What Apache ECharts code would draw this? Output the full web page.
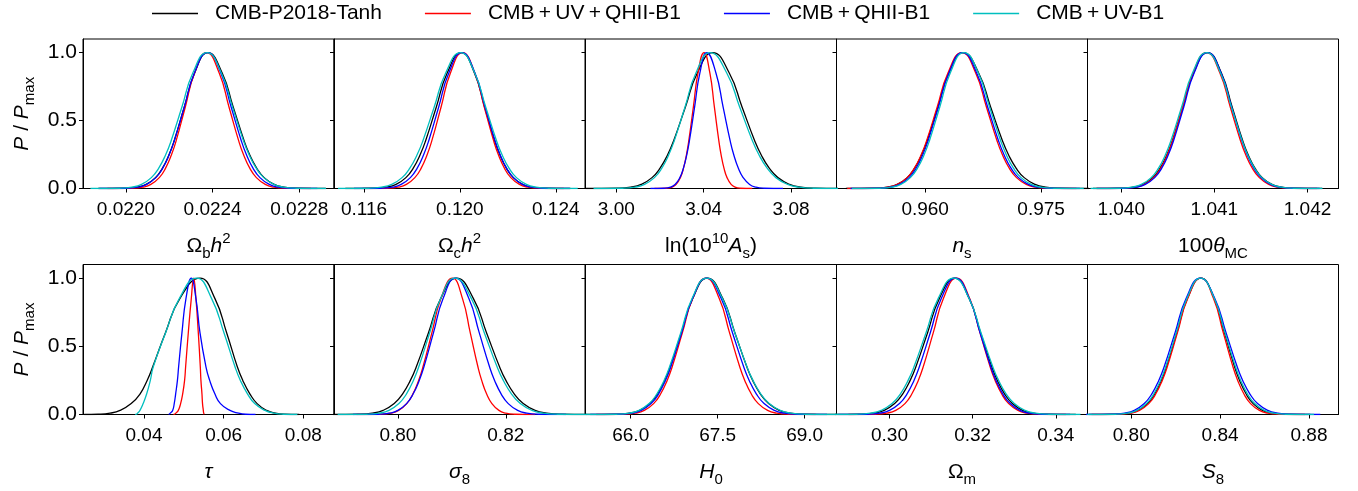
<!DOCTYPE html>
<html><head><meta charset="utf-8">
<script src="https://cdn.jsdelivr.net/npm/echarts@6/dist/echarts.min.js"></script>
<style>html,body{margin:0;padding:0;background:#fff}#c{width:1358px;height:491px}</style>
</head><body><div id="c"></div>
<script>
// ---------------- data ----------------
const SERIES_NAMES = ['CMB-P2018-Tanh', 'CMB+UV+QHII-B1', 'CMB+QHII-B1', 'CMB+UV-B1'];
// normalised posterior height (P/Pmax) of each sampled point
const LEVELS = [0, 0.002, 0.01, 0.03, 0.08, 0.15, 0.25, 0.35, 0.6, 0.85, 1, 0.85, 0.6, 0.35, 0.25, 0.15, 0.08, 0.03, 0.01, 0.002, 0];
// x positions of the sampled points; curve order: black, red, blue, cyan
const OBH2 = [
  [0.0218719, 0.0219985, 0.0220519, 0.0220936, 0.0221366, 0.0221688, 0.0221993, 0.0222224, 0.0222696, 0.0223170, 0.0223783, 0.0224441, 0.0224949, 0.0225456, 0.0225704, 0.0226032, 0.0226377, 0.0226839, 0.0227286, 0.0227859, 0.0229218],
  [0.0219151, 0.0220293, 0.0220775, 0.0221151, 0.0221540, 0.0221830, 0.0222105, 0.0222315, 0.0222740, 0.0223168, 0.0223721, 0.0224304, 0.0224755, 0.0225204, 0.0225424, 0.0225714, 0.0226020, 0.0226430, 0.0226826, 0.0227334, 0.0228538],
  [0.0218765, 0.0220015, 0.0220543, 0.0220954, 0.0221380, 0.0221697, 0.0221999, 0.0222228, 0.0222693, 0.0223161, 0.0223767, 0.0224380, 0.0224854, 0.0225326, 0.0225557, 0.0225862, 0.0226184, 0.0226615, 0.0227031, 0.0227565, 0.0228831],
  [0.0218364, 0.0219707, 0.0220274, 0.0220716, 0.0221173, 0.0221514, 0.0221838, 0.0222083, 0.0222584, 0.0223086, 0.0223737, 0.0224403, 0.0224917, 0.0225429, 0.0225680, 0.0226011, 0.0226360, 0.0226828, 0.0227280, 0.0227860, 0.0229234]
];
const OCH2 = [
  [0.1152223, 0.1164307, 0.1169406, 0.1173382, 0.1177491, 0.1180560, 0.1183472, 0.1185684, 0.1190185, 0.1194707, 0.1200559, 0.1206075, 0.1210337, 0.1214580, 0.1216664, 0.1219409, 0.1222303, 0.1226175, 0.1229922, 0.1234729, 0.1246119],
  [0.1159446, 0.1169863, 0.1174259, 0.1177686, 0.1181228, 0.1183874, 0.1186384, 0.1188291, 0.1192171, 0.1196069, 0.1201114, 0.1206226, 0.1210176, 0.1214108, 0.1216040, 0.1218584, 0.1221265, 0.1224854, 0.1228327, 0.1232782, 0.1243338],
  [0.1155832, 0.1167083, 0.1171831, 0.1175533, 0.1179358, 0.1182216, 0.1184927, 0.1186986, 0.1191177, 0.1195387, 0.1200836, 0.1206285, 0.1210495, 0.1214686, 0.1216745, 0.1219456, 0.1222314, 0.1226139, 0.1229841, 0.1234589, 0.1245840],
  [0.1149165, 0.1161944, 0.1167337, 0.1171541, 0.1175886, 0.1179132, 0.1182211, 0.1184550, 0.1189310, 0.1194092, 0.1200281, 0.1206201, 0.1210774, 0.1215328, 0.1217564, 0.1220510, 0.1223615, 0.1227771, 0.1231792, 0.1236950, 0.1249173]
];
const LNAS = [
  [2.985899, 3.000459, 3.006603, 3.011394, 3.016344, 3.020042, 3.023551, 3.026216, 3.031639, 3.037088, 3.044139, 3.051710, 3.057560, 3.063383, 3.066244, 3.070012, 3.073982, 3.079298, 3.084441, 3.091038, 3.106671],
  [3.017471, 3.023142, 3.025535, 3.027401, 3.029329, 3.030769, 3.032136, 3.033174, 3.035286, 3.037409, 3.040155, 3.042827, 3.044891, 3.046946, 3.047956, 3.049286, 3.050687, 3.052563, 3.054378, 3.056706, 3.062223],
  [3.015632, 3.022069, 3.024785, 3.026903, 3.029092, 3.030727, 3.032278, 3.033456, 3.035854, 3.038263, 3.041380, 3.045611, 3.048880, 3.052134, 3.053733, 3.055838, 3.058057, 3.061027, 3.063901, 3.067588, 3.076324],
  [2.989577, 3.002911, 3.008538, 3.012925, 3.017458, 3.020845, 3.024059, 3.026499, 3.031466, 3.036455, 3.042913, 3.050558, 3.056465, 3.062346, 3.065234, 3.069039, 3.073048, 3.078416, 3.083609, 3.090271, 3.106057]
];
const NS = [
  [0.9497414, 0.9535345, 0.9551352, 0.9563831, 0.9576728, 0.9586362, 0.9595504, 0.9602445, 0.9616574, 0.9630768, 0.9649138, 0.9669178, 0.9684662, 0.9700076, 0.9707648, 0.9717620, 0.9728131, 0.9742199, 0.9755813, 0.9773275, 0.9814654],
  [0.9499138, 0.9536207, 0.9551850, 0.9564046, 0.9576649, 0.9586065, 0.9594998, 0.9601782, 0.9615590, 0.9629461, 0.9647414, 0.9665367, 0.9679238, 0.9693046, 0.9699830, 0.9708763, 0.9718179, 0.9730782, 0.9742978, 0.9758621, 0.9795690],
  [0.9503448, 0.9539655, 0.9554934, 0.9566846, 0.9579157, 0.9588353, 0.9597079, 0.9603705, 0.9617192, 0.9630741, 0.9648276, 0.9666646, 0.9680840, 0.9694969, 0.9701910, 0.9711052, 0.9720686, 0.9733583, 0.9746062, 0.9762069, 0.9800000],
  [0.9505172, 0.9541379, 0.9556658, 0.9568570, 0.9580881, 0.9590077, 0.9598803, 0.9605429, 0.9618916, 0.9632465, 0.9650000, 0.9668788, 0.9683304, 0.9697754, 0.9704853, 0.9714202, 0.9724056, 0.9737245, 0.9750008, 0.9766379, 0.9805172]
];
const THETA = [
  [1.0396959, 1.0400036, 1.0401335, 1.0402347, 1.0403393, 1.0404175, 1.0404916, 1.0405479, 1.0406626, 1.0407777, 1.0409267, 1.0410757, 1.0411909, 1.0413055, 1.0413618, 1.0414359, 1.0415141, 1.0416187, 1.0417199, 1.0418498, 1.0421575],
  [1.0397281, 1.0400250, 1.0401503, 1.0402480, 1.0403490, 1.0404244, 1.0404960, 1.0405503, 1.0406610, 1.0407721, 1.0409159, 1.0410597, 1.0411708, 1.0412815, 1.0413358, 1.0414074, 1.0414828, 1.0415838, 1.0416815, 1.0418068, 1.0421037],
  [1.0397389, 1.0400358, 1.0401611, 1.0402588, 1.0403598, 1.0404352, 1.0405068, 1.0405611, 1.0406718, 1.0407829, 1.0409267, 1.0410723, 1.0411847, 1.0412967, 1.0413517, 1.0414241, 1.0415004, 1.0416026, 1.0417015, 1.0418283, 1.0421289],
  [1.0396708, 1.0399821, 1.0401135, 1.0402159, 1.0403217, 1.0404008, 1.0404758, 1.0405327, 1.0406487, 1.0407652, 1.0409159, 1.0410667, 1.0411831, 1.0412991, 1.0413560, 1.0414311, 1.0415101, 1.0416160, 1.0417184, 1.0418497, 1.0421610]
];
const TAU = [
  [0.0250, 0.0285, 0.0315, 0.0340, 0.0368, 0.0390, 0.0408, 0.0422, 0.0454, 0.0490, 0.05406, 0.05782, 0.06075, 0.06343, 0.0648, 0.06661, 0.0684, 0.07079, 0.0730, 0.0752, 0.0790],
  [0.0474, 0.0476, 0.0480, 0.04862, 0.0492, 0.04971, 0.0502, 0.05046, 0.05113, 0.05188, 0.05247, 0.05305, 0.05364, 0.05414, 0.0543, 0.05456, 0.0547, 0.05490, 0.0550, 0.05515, 0.0553],
  [0.0462, 0.04636, 0.0466, 0.04720, 0.0476, 0.04795, 0.0484, 0.04870, 0.04954, 0.05054, 0.05188, 0.05305, 0.05406, 0.05556, 0.0565, 0.05782, 0.0592, 0.06159, 0.0637, 0.0655, 0.0680],
  [0.0378, 0.0381, 0.0384, 0.0390, 0.0398, 0.04067, 0.0416, 0.04234, 0.04544, 0.04887, 0.05322, 0.05699, 0.06008, 0.06285, 0.0642, 0.06602, 0.0678, 0.07038, 0.0726, 0.0748, 0.0785]
];
const SIG8 = [
  [0.786666, 0.792716, 0.795269, 0.797259, 0.799316, 0.800852, 0.802310, 0.803417, 0.805671, 0.807934, 0.810864, 0.814003, 0.816428, 0.818843, 0.820029, 0.821591, 0.823237, 0.825441, 0.827573, 0.830309, 0.836790],
  [0.792345, 0.796790, 0.798665, 0.800128, 0.801639, 0.802768, 0.803839, 0.804652, 0.806308, 0.807971, 0.810123, 0.811977, 0.813409, 0.814834, 0.815535, 0.816457, 0.817429, 0.818730, 0.819990, 0.821605, 0.825432],
  [0.791667, 0.796420, 0.798426, 0.799989, 0.801605, 0.802813, 0.803958, 0.804828, 0.806599, 0.808377, 0.810679, 0.813160, 0.815077, 0.816986, 0.817924, 0.819158, 0.820460, 0.822202, 0.823887, 0.826049, 0.831173],
  [0.788828, 0.794260, 0.796552, 0.798339, 0.800186, 0.801566, 0.802875, 0.803869, 0.805893, 0.807925, 0.810556, 0.813635, 0.816014, 0.818383, 0.819546, 0.821079, 0.822693, 0.824855, 0.826947, 0.829630, 0.835988]
];
const H0 = [
  [65.24423, 65.76346, 65.98258, 66.15340, 66.32994, 66.46182, 66.58696, 66.68198, 66.87539, 67.06969, 67.32115, 67.58938, 67.79663, 68.00294, 68.10429, 68.23777, 68.37845, 68.56676, 68.74898, 68.98270, 69.53655],
  [65.40576, 65.87884, 66.07848, 66.23412, 66.39497, 66.51513, 66.62914, 66.71572, 66.89194, 67.06897, 67.29808, 67.52719, 67.70422, 67.88044, 67.96702, 68.08103, 68.20119, 68.36204, 68.51768, 68.71732, 69.19040],
  [65.30194, 65.80386, 66.01567, 66.18080, 66.35145, 66.47894, 66.59991, 66.69176, 66.87872, 67.06654, 67.30962, 67.56108, 67.75538, 67.94879, 68.04381, 68.16895, 68.30083, 68.47737, 68.64819, 68.86731, 69.38654],
  [65.23270, 65.75193, 65.97105, 66.14187, 66.31841, 66.45029, 66.57543, 66.67045, 66.86386, 67.05816, 67.30962, 67.58343, 67.79500, 68.00560, 68.10907, 68.24532, 68.38893, 68.58116, 68.76717, 69.00576, 69.57114]
];
const OM = [
  [0.285491, 0.293026, 0.296206, 0.298685, 0.301247, 0.303161, 0.304977, 0.306355, 0.309162, 0.311982, 0.315631, 0.319164, 0.321893, 0.324611, 0.325946, 0.327704, 0.329556, 0.332037, 0.334437, 0.337515, 0.344809],
  [0.290140, 0.296633, 0.299373, 0.301509, 0.303717, 0.305366, 0.306931, 0.308119, 0.310538, 0.312967, 0.316112, 0.319295, 0.321755, 0.324203, 0.325406, 0.326990, 0.328660, 0.330895, 0.333057, 0.335831, 0.342404],
  [0.287656, 0.294710, 0.297687, 0.300007, 0.302406, 0.304197, 0.305898, 0.307188, 0.309816, 0.312456, 0.315872, 0.319211, 0.321790, 0.324358, 0.325620, 0.327281, 0.329032, 0.331376, 0.333644, 0.336553, 0.343447],
  [0.284369, 0.292144, 0.295426, 0.297984, 0.300628, 0.302603, 0.304476, 0.305899, 0.308796, 0.311705, 0.315471, 0.319159, 0.322009, 0.324845, 0.326239, 0.328074, 0.330008, 0.332598, 0.335103, 0.338317, 0.345932]
];
const S8 = [
  [0.780937, 0.793545, 0.798866, 0.803014, 0.807300, 0.810503, 0.813541, 0.815849, 0.820545, 0.825263, 0.831369, 0.837329, 0.841935, 0.846519, 0.848771, 0.851737, 0.854863, 0.859047, 0.863096, 0.868290, 0.880597],
  [0.782141, 0.794448, 0.799642, 0.803691, 0.807875, 0.811001, 0.813967, 0.816219, 0.820803, 0.825409, 0.831369, 0.837039, 0.841419, 0.845780, 0.847923, 0.850744, 0.853718, 0.857698, 0.861550, 0.866490, 0.878197],
  [0.778237, 0.791445, 0.797019, 0.801364, 0.805855, 0.809210, 0.812393, 0.814810, 0.819730, 0.824672, 0.831069, 0.837611, 0.842666, 0.847697, 0.850169, 0.853425, 0.856856, 0.861449, 0.865893, 0.871593, 0.885101],
  [0.780187, 0.792945, 0.798329, 0.802526, 0.806864, 0.810105, 0.813179, 0.815514, 0.820266, 0.825040, 0.831219, 0.837398, 0.842172, 0.846924, 0.849259, 0.852333, 0.855574, 0.859912, 0.864109, 0.869493, 0.882251]
];
// tick labels
const OBH2_TICKS = ['0.0220', '0.0224', '0.0228'];
const OCH2_TICKS = ['0.116', '0.120', '0.124'];
const LNAS_TICKS = ['3.00', '3.04', '3.08'];
const NS_TICKS = ['0.960', '0.975'];
const THETA_TICKS = ['1.040', '1.041', '1.042'];
const TAU_TICKS = ['0.04', '0.06', '0.08'];
const SIG8_TICKS = ['0.80', '0.82'];
const H0_TICKS = ['66.0', '67.5', '69.0'];
const OM_TICKS = ['0.30', '0.32', '0.34'];
const S8_TICKS = ['0.80', '0.84', '0.88'];
const Y_TICKS = ['0.0', '0.5', '1.0'];

// ---------------- layout / style ----------------
const FONT = 'Liberation Sans';
const COLORS = ['#000000', '#ff0000', '#0000ff', '#00bfbf'];
const GRID_LEFT = [83, 334, 585.5, 836.5, 1087.5];
const GRID_TOP = [39, 264.5];
const GRID_H = [149.5, 150];
const GRID_W = 251;
const NAME_GAP = [43, 43];
const RICH = {
  n: {fontSize: 21, lineHeight: 30, verticalAlign: 'middle', fontFamily: FONT, color: '#000'},
  i: {fontSize: 21, lineHeight: 30, verticalAlign: 'middle', fontStyle: 'italic', fontFamily: FONT, color: '#000'},
  sub: {fontSize: 15, lineHeight: 16, verticalAlign: 'bottom', fontFamily: FONT, color: '#000'},
  sup: {fontSize: 15, lineHeight: 16, verticalAlign: 'top', fontFamily: FONT, color: '#000'}
};
const PANELS = [
  {xs: OBH2, ticks: OBH2_TICKS, label: '{n|Ω}{sub|b}{i|h}{sup|2}', min: 0.021802, max: 0.02296},
  {xs: OCH2, ticks: OCH2_TICKS, label: '{n|Ω}{sub|c}{i|h}{sup|2}', min: 0.11475, max: 0.12522},
  {xs: LNAS, ticks: LNAS_TICKS, label: '{n|ln(10}{sup|10}{i|A}{sub|s}{n|)}', min: 2.9859, max: 3.1008},
  {xs: NS, ticks: NS_TICKS, label: '{i|n}{sub|s}', min: 0.94853, max: 0.981},
  {xs: THETA, ticks: THETA_TICKS, label: '{n|100}{i|θ}{sub|MC}', min: 1.039638, max: 1.042333},
  {xs: TAU, ticks: TAU_TICKS, label: '{i|τ}', min: 0.0247, max: 0.0877},
  {xs: SIG8, ticks: SIG8_TICKS, label: '{i|σ}{sub|8}', min: 0.78815, max: 0.83469},
  {xs: H0, ticks: H0_TICKS, label: '{i|H}{sub|0}', min: 65.22, max: 69.55},
  {xs: OM, ticks: OM_TICKS, label: '{n|Ω}{sub|m}', min: 0.28726, max: 0.34762},
  {xs: S8, ticks: S8_TICKS, label: '{i|S}{sub|8}', min: 0.7803, max: 0.8933}
];

const grid = [], xAxis = [], yAxis = [], series = [];
const yVals = Y_TICKS.map(Number);
PANELS.forEach((p, k) => {
  const row = Math.floor(k / 5), col = k % 5;
  grid.push({left: GRID_LEFT[col], top: GRID_TOP[row], width: GRID_W, height: GRID_H[row],
    show: true, borderColor: '#000', borderWidth: 1, backgroundColor: 'transparent', containLabel: false});
  const tv = p.ticks.map(Number);
  xAxis.push({
    type: 'value', gridIndex: k, min: p.min, max: p.max,
    axisLine: {show: true, onZero: false, lineStyle: {color: '#000', width: 1}},
    axisTick: {show: true, inside: false, length: 4, customValues: tv, lineStyle: {color: '#000', width: 1}},
    axisLabel: {show: true, customValues: tv, margin: 12, fontSize: 19, fontFamily: FONT, color: '#000',
      formatter: v => { let b = 0; tv.forEach((t, j) => { if (Math.abs(t - v) < Math.abs(tv[b] - v)) b = j; }); return p.ticks[b]; }},
    splitLine: {show: false},
    name: p.label, nameLocation: 'middle', nameGap: NAME_GAP[row], nameMoveOverlap: false,
    nameTextStyle: {rich: RICH, fontFamily: FONT, color: '#000'}
  });
  yAxis.push({
    type: 'value', gridIndex: k, min: 0, max: 1.1,
    axisLine: {show: true, onZero: false, lineStyle: {color: '#000', width: 1}},
    axisTick: {show: true, inside: false, length: 4, customValues: yVals, lineStyle: {color: '#000', width: 1}},
    axisLabel: {show: col === 0, customValues: yVals, margin: 6, fontSize: 21, fontFamily: FONT, color: '#000',
      formatter: v => { let b = 0; yVals.forEach((t, j) => { if (Math.abs(t - v) < Math.abs(yVals[b] - v)) b = j; }); return Y_TICKS[b]; }},
    splitLine: {show: false},
    name: col === 0 ? '{i|P}{n| / }{i|P}{sub|max}' : '',
    nameLocation: 'middle', nameGap: 46, nameRotate: 90, nameMoveOverlap: false,
    nameTextStyle: {rich: RICH, fontFamily: FONT, color: '#000'}
  });
  p.xs.forEach((arr, c) => {
    series.push({
      name: SERIES_NAMES[c], type: 'line', xAxisIndex: k, yAxisIndex: k,
      data: arr.map((x, i) => [x, LEVELS[i]]),
      showSymbol: false, symbol: 'none', smooth: 0.5, clip: true,
      lineStyle: {color: COLORS[c], width: 1.3}, itemStyle: {color: COLORS[c]},
      silent: true, animation: false, z: 2 + c
    });
  });
});

const chart = echarts.init(document.getElementById('c'), null, {renderer: 'canvas', width: 1358, height: 491});
chart.setOption({
  animation: false,
  backgroundColor: '#fff',
  textStyle: {fontFamily: FONT},
  legend: {
    data: SERIES_NAMES, left: 152, top: 3, padding: 0, itemGap: 43,
    icon: 'rect', itemWidth: 46, itemHeight: 1.5,
    formatter: name => name.replace(/\+/g, '\u2009+\u2009'),
    textStyle: {fontSize: 21, fontFamily: FONT, color: '#000', padding: [0, 0, 0, 12]},
    selectedMode: false
  },
  grid, xAxis, yAxis, series
});
</script>
</body></html>
